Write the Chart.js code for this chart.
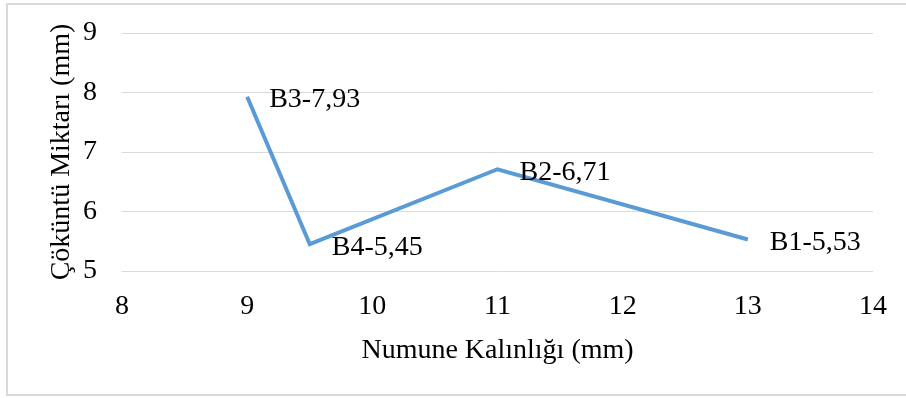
<!DOCTYPE html>
<html>
<head>
<meta charset="utf-8">
<script src="https://cdn.jsdelivr.net/npm/chart.js@4.4.0/dist/chart.umd.min.js"></script>
<style>
  html, body { margin: 0; padding: 0; background: #fff; }
  #wrap { width: 906px; height: 398px; position: relative; }
</style>
</head>
<body>
<div id="wrap"><canvas id="cokuntu-chart"></canvas></div>
<script>
// veriler
const numuneAdlari = ["B3", "B4", "B2", "B1"];
const kalinlik = [9, 9.5, 11, 13];
const cokuntu = [7.93, 5.45, 6.71, 5.53];
const xEksen = { min: 8, max: 14, adim: 1 };
const yEksen = { min: 5, max: 9, adim: 1 };

const yaziTipi = "'Liberation Serif', 'Times New Roman', serif";
const yaziBoyu = 28;

// dış çerçeve
const cerceve = {
  id: "cerceve",
  beforeDraw(chart) {
    const ctx = chart.ctx;
    ctx.save();
    ctx.fillStyle = "#fff";
    ctx.fillRect(0, 0, chart.width, chart.height);
    ctx.strokeStyle = "#d9d9d9";
    ctx.lineWidth = 2;
    ctx.strokeRect(7, 4, chart.width, 391);
    ctx.restore();
  },
};

// nokta etiketleri: "B3-7,93"
const etiketler = {
  id: "etiketler",
  afterDatasetsDraw(chart) {
    const ctx = chart.ctx;
    const meta = chart.getDatasetMeta(0);
    ctx.save();
    ctx.font = `${yaziBoyu}px ${yaziTipi}`;
    ctx.fillStyle = "#000";
    ctx.textAlign = "left";
    ctx.textBaseline = "middle";
    meta.data.forEach((pt, i) => {
      const metin = numuneAdlari[i] + "-" + cokuntu[i].toFixed(2).replace(".", ",");
      ctx.fillText(metin, pt.x + 22, pt.y + 3);
    });
    ctx.restore();
  },
};

const ctx = document.getElementById("cokuntu-chart").getContext("2d");
new Chart(ctx, {
  type: "scatter",
  data: {
    datasets: [
      {
        data: kalinlik.map((x, i) => ({ x: x, y: cokuntu[i] })),
        showLine: true,
        borderColor: "#5b9bd5",
        backgroundColor: "#5b9bd5",
        borderWidth: 4,
        pointRadius: 0,
        pointHoverRadius: 0,
      },
    ],
  },
  options: {
    responsive: true,
    maintainAspectRatio: false,
    animation: false,
    layout: { padding: { top: 33, right: 33, left: 0, bottom: 0 } },
    plugins: {
      legend: { display: false },
      tooltip: { enabled: false },
    },
    scales: {
      x: {
        type: "linear",
        min: xEksen.min,
        max: xEksen.max,
        afterFit: (s) => { s.height = 127; },
        grid: { display: false, drawTicks: false },
        border: { display: false },
        ticks: {
          stepSize: xEksen.adim,
          padding: 19,
          color: "#000",
          font: { family: yaziTipi, size: yaziBoyu },
        },
        title: {
          display: true,
          text: "Numune Kalınlığı (mm)",
          color: "#000",
          padding: { top: 0, bottom: 31 },
          font: { family: yaziTipi, size: yaziBoyu },
        },
      },
      y: {
        min: yEksen.min,
        max: yEksen.max,
        afterFit: (s) => {
          s.width = 122;
          s.paddingTop = 0;
          s.paddingBottom = 0;
        },
        grid: { color: "#d9d9d9", lineWidth: 1, drawTicks: false },
        border: { display: false },
        ticks: {
          stepSize: yEksen.adim,
          padding: 25,
          color: "#000",
          font: { family: yaziTipi, size: yaziBoyu },
        },
        title: {
          display: true,
          text: "Çöküntü Miktarı (mm)",
          color: "#000",
          padding: { top: 45, bottom: 0 },
          font: { family: yaziTipi, size: yaziBoyu },
        },
      },
    },
  },
  plugins: [cerceve, etiketler],
});
</script>
</body>
</html>
